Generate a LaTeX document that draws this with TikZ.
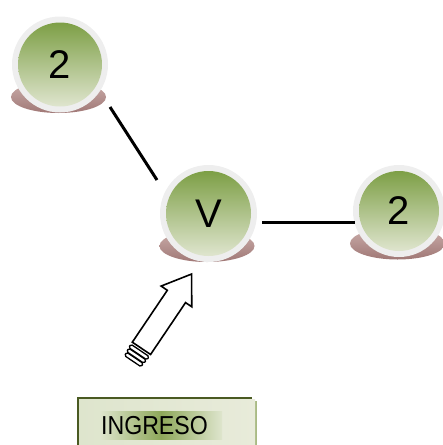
\documentclass[tikz,border=0pt]{standalone}
\usepackage{fontspec}
\setmainfont{Liberation Sans}
\usepackage{graphicx}
\usetikzlibrary{calc}
\definecolor{ringgray}{HTML}{EEEEEE}
\definecolor{gtop}{HTML}{769A3C}
\definecolor{gmid}{HTML}{AABE84}
\definecolor{gbot}{HTML}{E6EAD8}
\definecolor{shadtop}{HTML}{CBAEAB}
\definecolor{shadbot}{HTML}{A07876}
\definecolor{boxdark}{HTML}{4A5A22}
\definecolor{boxedge}{HTML}{A9BA84}
\definecolor{boxfill}{HTML}{DEE5CD}
\definecolor{boxfillr}{HTML}{E8EBDA}
\definecolor{boxhl}{HTML}{8EA85A}
\tikzset{
  bubble/.style={circle, fill=ringgray, inner sep=0pt, minimum size={2*#1},
    path picture={\shade[top color=gtop, middle color=gmid, bottom color=gbot]
      (path picture bounding box.center) circle ({#1-6});},
    font=\fontsize{40}{42}\selectfont},
  shadowblob/.style={top color=shadtop, bottom color=shadbot},
  conn/.style={line width=3pt},
  blockarrow/.style={draw=black, fill=white, line width=1.6pt, line join=miter},
  stripe/.style={draw=black, fill=white, line width=1.3pt, rounded corners=1.5pt}
}
\begin{document}
\begin{tikzpicture}[x=1pt,y=1pt]
\useasboundingbox (0,0) rectangle (443,-445);
\coordinate (c1) at (60,-64.5);
\coordinate (c2) at (208.5,-213.5);
\coordinate (c3) at (399,-211);
% shadows
\foreach \c in {c1,c2,c3}
  \shade[shadowblob] ($(\c)+(-1.5,-32.5)$) ellipse [x radius=47.5, y radius=16];
% bubbles
\node[bubble=48] (n1) at (c1) {2};
\node[bubble=48.5] (nv) at (c2) {V};
\node[bubble=46] (n3) at (c3) {2};
% connectors
\coordinate (e1) at (110,-107);
\coordinate (e2) at (157,-180);
\coordinate (e3) at (262,-222);
\coordinate (e4) at (355,-222);
\draw[conn] (e1) -- (e2);
\draw[conn] (e3) -- (e4);
% block arrow
\begin{scope}[shift={(142,-347.5)}, rotate=56]
  \draw[stripe] (-16.5,-10) rectangle (-12.5,10);
  \draw[stripe] (-12,-10.5) rectangle (-8,10.5);
  \draw[stripe] (-7.5,-11) rectangle (-3.5,11);
  \draw[blockarrow] (-1,-11) -- (61.6,-11) -- (61.6,-18.5) -- (88.6,0)
     -- (61.6,18.5) -- (61.6,11) -- (-1,11) -- cycle;
\end{scope}
% INGRESO box
\fill[boxedge] (80,-401) rectangle (257,-450);
\fill[boxdark] (77,-397) rectangle (252,-450);
\shade[left color=boxfill, right color=boxfillr] (79,-399.5) rectangle (255,-450);
\shade[left color=boxfill, right color=boxfill, middle color=boxhl] (100,-411) rectangle (222,-439);
\node[font=\fontsize{26}{28}\selectfont, inner sep=0pt] (ing) at (154.5,-425.5) {\scalebox{0.89}[1]{INGRESO}};
\end{tikzpicture}
\end{document}
